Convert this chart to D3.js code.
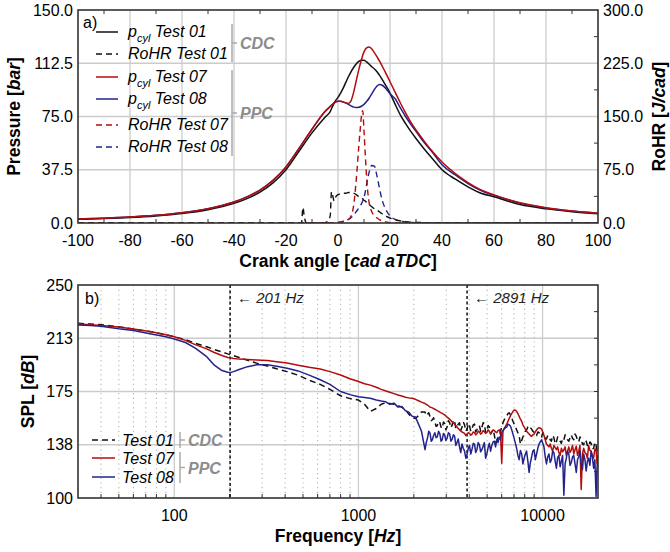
<!DOCTYPE html>
<html>
<head>
<meta charset="utf-8">
<script src="https://cdn.jsdelivr.net/npm/d3@7"></script>
<style>
body { margin: 0; background: #fff; }
svg text { font-family: "Liberation Sans", Arial, sans-serif; }
</style>
</head>
<body>
<div id="chart"></div>
<script>
// ---- panel a) data: cylinder pressure [bar] vs crank angle [cad aTDC]
const cad = [-100,-90,-80,-70,-60,-50,-40,-35,-30,-25,-20,-15,-10,-5,-3,-2,-1,0,1,2,3,4,5,6,7,8,9,10,11,12,13,14,15,16,17,18,20,22,24,26,28,30,33,36,40,45,50,55,60,70,80,90,100]
const pcyl01 = [2.6,3.1,3.8,4.9,6.6,9.3,13.8,17.2,21.8,28.3,37.5,50.5,63.5,74.5,78.5,82.5,86,88.5,91.5,95,99,103,106.5,109.5,112,113.8,114.7,114.6,113.5,111.8,110,108.5,106.5,104,101,98,91.5,83.5,76,70,64.5,59.5,52.5,46,37.5,31,25.5,21,18.5,13,10,8,6.5]
const pcyl07 = [2.8,3.4,4.2,5.4,7.2,10.1,14.8,18.4,23.2,30,39.5,52.5,66,78.5,82,83.8,85.2,85.8,85.7,85.2,84.6,84.2,86,92,100,108,115,120.5,123.3,124,122.5,120,117,114,110.5,107,99.5,92,84.5,77.5,71,65.5,58,51,43,35,28.5,23.3,19.8,14.2,10.8,8.5,6.9]
const pcyl08 = [2.8,3.4,4.2,5.4,7.2,10.1,14.8,18.4,23.2,30,39.5,52.5,66,78.5,82,83.8,85.2,85.8,85.8,85.3,84.5,83.5,82.5,81.6,81.3,81.5,82.2,83.5,85.5,88,91,94,96.5,97.6,97,95.5,91,87.5,81,75,69.5,64.5,57,50.5,41,34,27.8,22.8,19.5,14,10.6,8.4,6.8]

// rate of heat release [J/cad]
const cadRohr = [-100,-60,-20,-15,-14,-13.5,-13,-12.5,-12,-8,-5,-4,-3,-2.5,-2,-1.5,-1,0,1,2,3,4,5,6,7,8,8.5,9,9.5,10,10.5,11,11.5,12,13,14,15,16,17,18,19,20,22,24,27,30,40,60,100]
const rohr01 = [0,0,0,0,1,22,10,2,0,0,0.5,2,10,44,38,31,36,40,41,42,42,43,43,42,40,37,36,35,34,32,31,29,28,26,23,20,18,15.5,13,11,8.5,7,4.5,3,1.5,0.8,0.3,0,0]
const rohr07 = [0,0,0,0,0,0,0,0,0,0,0,0,0,0,0,0,0.5,1,1.5,2.5,4,5,10,24,60,108,130,150,158,130,96,65,42,28,16,10,7,4.5,3,2,1,0.5,0,0,0,0,0,0,0]
const rohr08 = [0,0,0,0,0,0,0,0,0,0,0,0,0,0,0,0,0,0.5,1,2,3.5,5,7.5,11,16,21,24,27,31,36,44,54,64,72,81,80,66,48,32,22,15,10,5,2.5,1,0.5,0,0,0]

// ---- panel b) data: sound pressure level [dB] vs frequency [Hz]
const freqHz = [30,35,40,50,60,75,90,100,115,130,
  150,165,180,195,201,210,225,250,280,320,
  360,410,470,540,620,700,800,900,1000,1080,
  1160,1250,1330,1400,1480,1560,1640,1720,1800,1880,
  1960,2040,2120,2200,
  2300,2335,2370,2410,2450,2485,2520,2560,2600,2640,
  2680,2725,2770,2810,2850,2895,2940,2985,3030,3080,
  3130,3180,3230,3280,3330,3380,3430,3485,3540,3595,
  3650,3710,3770,3830,3890,3950,4010,4075,4140,4205,
  4270,4335,4400,4470,4540,4610,4680,4755,4830,4905,
  4980,5060,5140,5220,5300,5385,5470,5555,5640,5730,
  5820,5910,6000,6095,6190,6290,6390,6490,6590,6695,
  6800,6905,7010,7120,7230,7345,7460,7580,7700,7820,
  7940,8065,8190,8320,8450,8585,8720,8855,8990,9135,
  9280,9425,9570,9720,9870,10025,10180,10340,10500,10665,
  10830,11000,11170,11345,11520,11705,11890,12075,12260,12455,
  12650,12850,13050,13255,13460,13670,13880,14100,14320,14545,
  14770,15005,15240,15480,15720,15965,16210,16465,16720,16985,
  17250,17520,17790,18070,18350,18640,18930,19230,19530,19765,
  20000]
const splTest01 = [223,222.5,222,220.5,219,217,215,213.6,211.5,209,
  206.5,204.5,203,201.5,201,200.3,199,197,195,193,
  191,189,186.5,183,180,176.5,172,170,169,166,
  161,163,166,167,166.5,166,165,164,162,159,
  156.5,156,158,160.5,
  160.5,158,159,160,157,154.5,155,156.5,153.5,150.5,
  151,154,153,150,149,153.5,152.5,148,150,154.5,
  153,149.5,151.5,155,154,149,150.5,152,153,147.5,
  150,153.5,151.5,147,148.5,152.5,151,147,149,151.5,
  152,146.5,148,150.5,151,147,149.5,153,152.5,146,
  147.5,151,150,145,146.5,148,144.5,139,140.5,143,
  144,147,150,153,155,157,158,159.5,160,158.5,
  156.5,154,152,150,148,146,144,138,140.5,143,
  145,147,148,150,151,149.5,148.5,147,146,145,
  144,146.5,146,144.5,143,146,145,142,141.5,144,
  143.5,141,140,144,142.5,138,139.5,143,142,140,
  138.5,142,141,144.5,143,141,140,142.5,144.5,142,
  141,145,143.5,140.5,139.5,143,141.5,138,137.5,141,
  140,137,136,139.5,138.5,134.5,135,139,137,132,
  134]
const splTest07 = [222.5,222,221.5,220.5,219,217,215,213.5,211,208,
  205,202.5,200.5,199,198.8,198.3,197.8,197.5,197.2,196.8,
  196,195,193.5,192,190.8,189,186.6,184,182,180.5,
  179.5,178,176.5,175.5,174.5,173.5,172.5,171.8,171,170.5,
  170.2,169.5,168.5,167.5,
  166.5,166,165.5,164.8,164,163.8,163.5,163,162.5,162,
  161.5,161,160.5,160,159.6,159,158.5,157.8,157,156.2,
  155.5,154.5,153.5,152.8,152,151,150,149,148,147.2,
  146.5,146,145.5,144,144.8,146,145.5,144.2,145,146.5,
  146,144.5,145.3,147,146.5,145,145.8,147.5,146.8,145.5,
  146,148,147,145.5,146.5,148,147.5,146.5,146,147.5,
  148,146,124.5,147,149,150.5,152,154,156,158,
  159.5,161,162,161.8,161,159.5,157.5,155.5,154,151.5,
  150,148.5,147,146,145,144,143.5,144.5,145,146.5,
  148,149,149.5,149.2,148.5,146.5,144,141,138,137,
  136,138,135,133,137,135.5,134,136,132,130,
  135,132.5,133.8,136,130,133,136,132,134,137,
  131,134,136.5,130,133,137,106,131,135,132,
  131,128,137,133.5,133,130,128,134.5,134,124,
  130]
const splTest08 = [221.8,221.4,221,219.2,218,215.5,213.5,212,209.5,205.5,
  199.5,193.5,190,188.5,188.3,189,190.5,192.5,193.8,193.8,
  192.8,191.3,189.5,186.5,183.3,180,175,172.8,171.3,170.8,
  170.2,169,168.3,167.8,166,166.8,164,164.5,161.5,160.5,
  157.5,157,152,147,
  134,139,142,147,145.5,140,141,144,146,142.5,
  143,147,145,140,141,145.5,144.5,140.5,142,146,
  145,140,141.5,144.5,143.5,137,139,141.5,136,132,
  138,135,133,128,131,135,137,131,134.5,138.5,
  138,132,134,139,137.5,132.5,134,136.5,139,128,
  131,135.5,138.5,133,137,139.5,140,136,141,139,
  143,141,146,147.5,148.5,149.5,150,152,151.5,150.5,
  148,145,142,138.5,135,130,127,133.5,131,124,
  128,131,133,126,118,125,129,133,134,127,
  131,135,138,139.5,141,138.5,136,129,124,129,
  131,125,127,133,132,126,121,128.5,130,122,
  126,130,102,124,128,133,131,123,125,129,
  130,124,118,127,129,133,124,120,131,127,
  119,126,128,123,133,129,121,127,101,122,
  126]

const markerFreqs = [201, 3891]
const markerLabels = ['\u2190 201 Hz', '\u2190 2891 Hz']

// ---- layout
const width = 670, height = 552
const plotLeft = 78, plotRight = 598
const topA = 10, bottomA = 223
const topB = 285, bottomB = 498

const red = '#b30c0c', blue = '#23238c', black = '#111111'
const gridColor = '#cccccc', frameColor = '#333333', groupGrey = '#8c8c8c'
const tickFont = '16px', titleFont = '17.5px'

var svg = d3.select('#chart')
  .append('svg')
  .attr('width', width)
  .attr('height', height)

var defs = svg.append('defs')
defs.append('clipPath').attr('id', 'clipA')
  .append('rect').attr('x', plotLeft).attr('y', topA)
  .attr('width', plotRight - plotLeft).attr('height', bottomA - topA)
defs.append('clipPath').attr('id', 'clipB')
  .append('rect').attr('x', plotLeft).attr('y', topB)
  .attr('width', plotRight - plotLeft).attr('height', bottomB - topB)

// =================== panel a) ===================
var xA = d3.scaleLinear().domain([-100, 100]).range([plotLeft, plotRight])
var yA = d3.scaleLinear().domain([0, 150]).range([bottomA, topA])
var yAR = d3.scaleLinear().domain([0, 300]).range([bottomA, topA])

var gA = svg.append('g')

// grid
gA.append('g').selectAll('line')
  .data(d3.range(-80, 100, 20))
  .enter().append('line')
  .attr('x1', d => xA(d)).attr('x2', d => xA(d))
  .attr('y1', topA).attr('y2', bottomA)
  .attr('stroke', gridColor).attr('stroke-width', 1.3)
gA.append('g').selectAll('line')
  .data([37.5, 75, 112.5])
  .enter().append('line')
  .attr('x1', plotLeft).attr('x2', plotRight)
  .attr('y1', d => yA(d)).attr('y2', d => yA(d))
  .attr('stroke', gridColor).attr('stroke-width', 1.3)

// minor ticks (inward)
var minorX = d3.range(-90, 100, 20)
gA.append('g').selectAll('line')
  .data(minorX).enter().append('line')
  .attr('x1', d => xA(d)).attr('x2', d => xA(d))
  .attr('y1', bottomA).attr('y2', bottomA - 4)
  .attr('stroke', frameColor)
gA.append('g').selectAll('line')
  .data(minorX).enter().append('line')
  .attr('x1', d => xA(d)).attr('x2', d => xA(d))
  .attr('y1', topA).attr('y2', topA + 4)
  .attr('stroke', frameColor)
gA.append('g').selectAll('line')
  .data([37.5, 112.5, 187.5, 262.5]).enter().append('line')
  .attr('x1', plotRight).attr('x2', plotRight - 4)
  .attr('y1', d => yAR(d)).attr('y2', d => yAR(d))
  .attr('stroke', frameColor)

// curves
var pLine = d3.line()
  .x((d, i) => xA(cad[i]))
  .y(d => yA(d))
  .curve(d3.curveMonotoneX)
var rLine = d3.line()
  .x((d, i) => xA(cadRohr[i]))
  .y(d => yAR(d))
  .curve(d3.curveMonotoneX)

var curvesA = gA.append('g').attr('clip-path', 'url(#clipA)')
var rohrSeries = [
  {values: rohr08, color: blue},
  {values: rohr07, color: red},
  {values: rohr01, color: black}
]
rohrSeries.forEach(function(s) {
  curvesA.append('path')
    .attr('d', rLine(s.values))
    .attr('fill', 'none')
    .attr('stroke', s.color)
    .attr('stroke-width', 1.4)
    .attr('stroke-dasharray', '6,4')
})
var pSeries = [
  {values: pcyl01, color: black},
  {values: pcyl08, color: blue},
  {values: pcyl07, color: red}
]
pSeries.forEach(function(s) {
  curvesA.append('path')
    .attr('d', pLine(s.values))
    .attr('fill', 'none')
    .attr('stroke', s.color)
    .attr('stroke-width', 1.5)
})

// frame
gA.append('rect')
  .attr('x', plotLeft).attr('y', topA)
  .attr('width', plotRight - plotLeft).attr('height', bottomA - topA)
  .attr('fill', 'none').attr('stroke', frameColor).attr('stroke-width', 1.6)

// tick labels
gA.append('g').selectAll('text')
  .data(d3.range(-100, 101, 20)).enter().append('text')
  .attr('x', d => xA(d)).attr('y', bottomA + 23)
  .attr('text-anchor', 'middle').style('font-size', tickFont)
  .text(d => d)
gA.append('g').selectAll('text')
  .data([0, 37.5, 75, 112.5, 150]).enter().append('text')
  .attr('x', plotLeft - 5).attr('y', d => yA(d) + 5.5)
  .attr('text-anchor', 'end').style('font-size', tickFont)
  .text(d => d3.format('.1f')(d))
gA.append('g').selectAll('text')
  .data([0, 75, 150, 225, 300]).enter().append('text')
  .attr('x', plotRight + 5).attr('y', d => yAR(d) + 5.5)
  .attr('text-anchor', 'start').style('font-size', tickFont)
  .text(d => d3.format('.1f')(d))

// axis titles
var tA = gA.append('text')
  .attr('transform', `translate(20,${(topA + bottomA) / 2}) rotate(-90)`)
  .attr('text-anchor', 'middle').style('font-size', titleFont).style('font-weight', 'bold')
tA.append('tspan').text('Pressure [')
tA.append('tspan').style('font-style', 'italic').text('bar')
tA.append('tspan').text(']')

var tAR = gA.append('text')
  .attr('transform', `translate(665,${(topA + bottomA) / 2}) rotate(-90)`)
  .attr('text-anchor', 'middle').style('font-size', titleFont).style('font-weight', 'bold')
tAR.append('tspan').text('RoHR [')
tAR.append('tspan').style('font-style', 'italic').text('J/cad')
tAR.append('tspan').text(']')

var tAX = gA.append('text')
  .attr('x', (plotLeft + plotRight) / 2).attr('y', bottomA + 44)
  .attr('text-anchor', 'middle').style('font-size', titleFont).style('font-weight', 'bold')
tAX.append('tspan').text('Crank angle [')
tAX.append('tspan').style('font-style', 'italic').text('cad aTDC')
tAX.append('tspan').text(']')

gA.append('text').attr('x', plotLeft + 5).attr('y', topA + 18)
  .style('font-size', '16px').text('a)')

// legend a)
var legendA = [
  {name: 'p', sub: 'cyl', rest: ' Test 01', color: black, dash: null, y: 32},
  {name: 'RoHR Test 01', sub: null, color: black, dash: '6,4', y: 54},
  {name: 'p', sub: 'cyl', rest: ' Test 07', color: red, dash: null, y: 77},
  {name: 'p', sub: 'cyl', rest: ' Test 08', color: blue, dash: null, y: 99},
  {name: 'RoHR Test 07', sub: null, color: red, dash: '6,4', y: 125},
  {name: 'RoHR Test 08', sub: null, color: blue, dash: '6,4', y: 147}
]
var legA = gA.append('g')
legendA.forEach(function(d) {
  legA.append('line')
    .attr('x1', 96).attr('x2', 118).attr('y1', d.y).attr('y2', d.y)
    .attr('stroke', d.color).attr('stroke-width', 1.5)
    .attr('stroke-dasharray', d.dash)
  var t = legA.append('text')
    .attr('x', 128).attr('y', d.y + 5)
    .style('font-size', '16px').style('font-style', 'italic')
  if (d.sub) {
    t.append('tspan').text(d.name)
    t.append('tspan').attr('dy', 5).style('font-size', '11px').text(d.sub)
    t.append('tspan').attr('dy', -5).text(d.rest)
  } else {
    t.text(d.name)
  }
})

function groupBracket(g, x, y1, y2, label) {
  g.append('line')
    .attr('x1', x).attr('x2', x).attr('y1', y1).attr('y2', y2)
    .attr('stroke', '#aaaaaa').attr('stroke-width', 1.5)
  var ym = (y1 + y2) / 2
  g.append('line')
    .attr('x1', x).attr('x2', x + 5).attr('y1', ym).attr('y2', ym)
    .attr('stroke', '#aaaaaa').attr('stroke-width', 1.5)
  g.append('text')
    .attr('x', x + 8).attr('y', ym + 6)
    .style('font-size', '16px').style('font-weight', 'bold').style('font-style', 'italic')
    .attr('fill', groupGrey).text(label)
}
groupBracket(legA, 232, 24, 62, 'CDC')
groupBracket(legA, 232, 70, 156, 'PPC')

// =================== panel b) ===================
var xB = d3.scaleLog().domain([30, 20000]).range([plotLeft, plotRight])
var yB = d3.scaleLinear().domain([100, 250]).range([bottomB, topB])

var gB = svg.append('g')

var logTicks = xB.ticks()
var majorB = [100, 1000, 10000]
var minorB = logTicks.filter(d => majorB.indexOf(d) < 0 && d > 30 && d < 20000)

gB.append('g').selectAll('line')
  .data(minorB).enter().append('line')
  .attr('x1', d => xB(d)).attr('x2', d => xB(d))
  .attr('y1', topB).attr('y2', bottomB)
  .attr('stroke', '#b4b4b4').attr('stroke-width', 1.1)
  .attr('stroke-dasharray', '1.2,3.5')
gB.append('g').selectAll('line')
  .data(majorB).enter().append('line')
  .attr('x1', d => xB(d)).attr('x2', d => xB(d))
  .attr('y1', topB).attr('y2', bottomB)
  .attr('stroke', gridColor).attr('stroke-width', 1.3)
gB.append('g').selectAll('line')
  .data([137.5, 175, 212.5]).enter().append('line')
  .attr('x1', plotLeft).attr('x2', plotRight)
  .attr('y1', d => yB(d)).attr('y2', d => yB(d))
  .attr('stroke', gridColor).attr('stroke-width', 1.3)

// inward ticks
gB.append('g').selectAll('line')
  .data(minorB).enter().append('line')
  .attr('x1', d => xB(d)).attr('x2', d => xB(d))
  .attr('y1', bottomB).attr('y2', bottomB - 4)
  .attr('stroke', frameColor)
gB.append('g').selectAll('line')
  .data(d3.range(118.75, 250, 18.75)).enter().append('line')
  .attr('x1', plotRight).attr('x2', plotRight - 4)
  .attr('y1', d => yB(d)).attr('y2', d => yB(d))
  .attr('stroke', frameColor)

// marker lines
gB.append('g').selectAll('line')
  .data(markerFreqs).enter().append('line')
  .attr('x1', d => xB(d)).attr('x2', d => xB(d))
  .attr('y1', topB).attr('y2', bottomB)
  .attr('stroke', '#111').attr('stroke-width', 1.5)
  .attr('stroke-dasharray', '3,2.5')
gB.append('g').selectAll('text')
  .data(markerFreqs).enter().append('text')
  .attr('x', d => xB(d) + 7).attr('y', topB + 18)
  .style('font-size', '15px').style('font-style', 'italic').attr('fill', '#222')
  .text((d, i) => markerLabels[i])

var sLine = d3.line()
  .x((d, i) => xB(freqHz[i]))
  .y(d => yB(d))

var curvesB = gB.append('g').attr('clip-path', 'url(#clipB)')
var splSeries = [
  {values: splTest01, color: black, dash: '6,4'},
  {values: splTest07, color: red, dash: null},
  {values: splTest08, color: blue, dash: null}
]
splSeries.forEach(function(s) {
  curvesB.append('path')
    .attr('d', sLine(s.values))
    .attr('fill', 'none')
    .attr('stroke', s.color)
    .attr('stroke-width', 1.5)
    .attr('stroke-linejoin', 'round')
    .attr('stroke-dasharray', s.dash)
})

gB.append('rect')
  .attr('x', plotLeft).attr('y', topB)
  .attr('width', plotRight - plotLeft).attr('height', bottomB - topB)
  .attr('fill', 'none').attr('stroke', frameColor).attr('stroke-width', 1.6)

gB.append('g').selectAll('text')
  .data(majorB).enter().append('text')
  .attr('x', d => xB(d)).attr('y', bottomB + 23)
  .attr('text-anchor', 'middle').style('font-size', tickFont)
  .text(d => d)
gB.append('g').selectAll('text')
  .data([100, 137.5, 175, 212.5, 250]).enter().append('text')
  .attr('x', plotLeft - 5).attr('y', d => yB(d) + 5.5)
  .attr('text-anchor', 'end').style('font-size', tickFont)
  .text(d => d3.format('.0f')(d))

var tB = gB.append('text')
  .attr('transform', `translate(34,${(topB + bottomB) / 2}) rotate(-90)`)
  .attr('text-anchor', 'middle').style('font-size', titleFont).style('font-weight', 'bold')
tB.append('tspan').text('SPL [')
tB.append('tspan').style('font-style', 'italic').text('dB')
tB.append('tspan').text(']')

var tBX = gB.append('text')
  .attr('x', (plotLeft + plotRight) / 2).attr('y', bottomB + 44)
  .attr('text-anchor', 'middle').style('font-size', titleFont).style('font-weight', 'bold')
tBX.append('tspan').text('Frequency [')
tBX.append('tspan').style('font-style', 'italic').text('Hz')
tBX.append('tspan').text(']')

gB.append('text').attr('x', plotLeft + 7).attr('y', topB + 19)
  .style('font-size', '16px').text('b)')

// legend b)
var legendB = [
  {name: 'Test 01', color: black, dash: '6,4', y: 440},
  {name: 'Test 07', color: red, dash: null, y: 458},
  {name: 'Test 08', color: blue, dash: null, y: 477}
]
var legB = gB.append('g')
legendB.forEach(function(d) {
  legB.append('line')
    .attr('x1', 92).attr('x2', 115).attr('y1', d.y).attr('y2', d.y)
    .attr('stroke', d.color).attr('stroke-width', 1.5)
    .attr('stroke-dasharray', d.dash)
  legB.append('text')
    .attr('x', 122).attr('y', d.y + 5.5)
    .style('font-size', '16px').style('font-style', 'italic')
    .text(d.name)
})
groupBracket(legB, 180, 432, 448, 'CDC')
groupBracket(legB, 180, 452, 483, 'PPC')
</script>
</body>
</html>
